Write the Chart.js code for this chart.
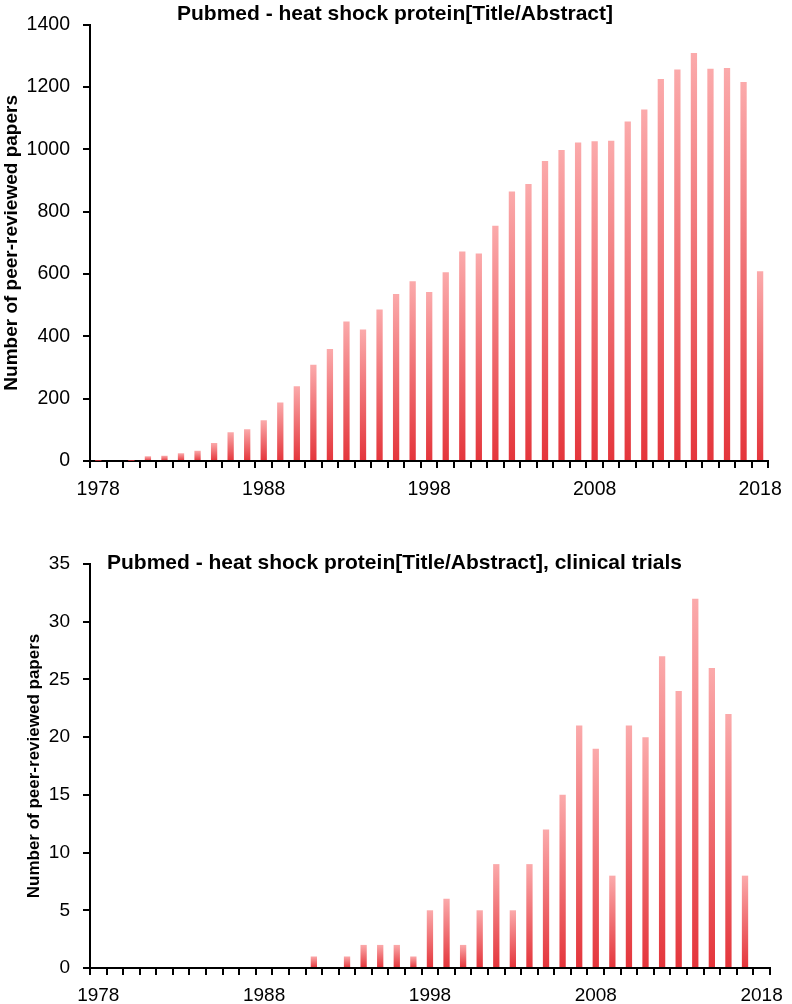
<!DOCTYPE html>
<html>
<head>
<meta charset="utf-8">
<script src="https://cdn.jsdelivr.net/npm/chart.js@4/dist/chart.umd.min.js"></script>
<style>
  html, body { margin: 0; padding: 0; background: #fff; }
  #wrap { position: relative; width: 792px; height: 1004px; }
  canvas { position: absolute; left: 0; }
  #c1 { top: 0; }
  #c2 { top: 500px; }
</style>
</head>
<body>
<div id="wrap">
  <canvas id="c1" width="792" height="500"></canvas>
  <canvas id="c2" width="792" height="504"></canvas>
</div>
<script>
// ---- data ----
const years = ['1978','1979','1980','1981','1982','1983','1984','1985','1986','1987',
  '1988','1989','1990','1991','1992','1993','1994','1995','1996','1997',
  '1998','1999','2000','2001','2002','2003','2004','2005','2006','2007',
  '2008','2009','2010','2011','2012','2013','2014','2015','2016','2017','2018'];
const shownYearLabels = ['1978','1988','1998','2008','2018'];
const allPapers = [1, 3, 1, 15, 17, 25, 33, 58, 92, 102,
  131, 188, 240, 309, 359, 448, 422, 486, 536, 577,
  542, 606, 672, 666, 755, 865, 889, 963, 998, 1022,
  1026, 1028, 1089, 1128, 1226, 1256, 1309, 1259, 1261, 1216, 609];
const clinicalTrials = [0, 0, 0, 0, 0, 0, 0, 0, 0, 0,
  0, 0, 0, 1, 0, 1, 2, 2, 2, 1,
  5, 6, 2, 5, 9, 5, 9, 12, 15, 21,
  19, 8, 21, 20, 27, 24, 32, 26, 22, 8, 0];
const topYTicks = { max: 1400, step: 200 };
const bottomYTicks = { max: 35, step: 5 };
const titleTop = 'Pubmed - heat shock protein[Title/Abstract]';
const titleBottom = 'Pubmed - heat shock protein[Title/Abstract], clinical trials';
const yAxisTitle = 'Number of peer-reviewed papers';

// ---- styling helpers ----
const FONT = "'Liberation Sans', Arial, sans-serif";

function barGradient(context) {
  const chart = context.chart;
  const y = chart.scales && chart.scales.y;
  if (context.type !== 'data' || !y || !context.parsed) return '#ec5a5e';
  const yTop = y.getPixelForValue(context.parsed.y);
  const yBot = y.getPixelForValue(0);
  if (!isFinite(yTop) || !isFinite(yBot) || Math.abs(yBot - yTop) < 0.5) return '#e63a40';
  const g = chart.ctx.createLinearGradient(0, yTop, 0, yBot);
  g.addColorStop(0, '#fbaaab');
  g.addColorStop(1, '#e4353b');
  return g;
}

const innerTitle = {
  id: 'innerTitle',
  afterDraw(chart, args, opts) {
    const c = chart.ctx;
    c.save();
    c.font = opts.font;
    c.fillStyle = '#000';
    c.textAlign = 'left';
    c.textBaseline = 'middle';
    c.fillText(opts.text, opts.x, opts.y);
    c.restore();
  }
};

function makeChart(canvasId, values, yt, cfg) {
  return new Chart(document.getElementById(canvasId), {
    type: 'bar',
    data: {
      labels: years,
      datasets: [{
        data: values,
        backgroundColor: barGradient,
        borderWidth: 0,
        barPercentage: 0.38,
        categoryPercentage: 1.0
      }]
    },
    plugins: [innerTitle],
    options: {
      responsive: false,
      animation: false,
      devicePixelRatio: 1,
      layout: { padding: cfg.padding },
      plugins: {
        legend: { display: false },
        tooltip: { enabled: false },
        title: { display: false },
        innerTitle: { text: cfg.title, x: cfg.titleX, y: cfg.titleY, font: cfg.titleFont }
      },
      scales: {
        x: {
          type: 'category',
          offset: true,
          afterFit: (s) => { s.height = cfg.xAxisHeight; },
          grid: { display: true, offset: true, drawOnChartArea: false, drawTicks: true, tickLength: 7, color: '#000', lineWidth: 2 },
          border: { display: true, color: '#000', width: 2 },
          ticks: {
            autoSkip: false, maxRotation: 0, minRotation: 0,
            padding: cfg.xTickPad,
            color: '#000',
            font: { family: FONT, size: cfg.xTickSize },
            callback: function (value, index) {
              const lab = years[index];
              return shownYearLabels.includes(lab) ? lab : '';
            }
          }
        },
        y: {
          min: 0, max: yt.max,
          afterFit: (s) => { s.width = 90; },
          grid: { display: true, drawOnChartArea: false, drawTicks: true, tickLength: 7, color: '#000', lineWidth: 2 },
          border: { display: true, color: '#000', width: 2 },
          ticks: {
            stepSize: yt.step,
            padding: 13,
            color: '#000',
            font: { family: FONT, size: cfg.yTickSize },
            callback: (v) => String(v)
          },
          title: {
            display: true,
            text: yAxisTitle,
            color: '#000',
            padding: { top: cfg.yTitlePad, bottom: 0 },
            font: { family: FONT, size: cfg.yTitleSize, weight: 'bold' }
          }
        }
      }
    }
  });
}

makeChart('c1', allPapers, topYTicks, {
  padding: { left: 0, right: 17, top: 12, bottom: 0 },
  xAxisHeight: 39, xTickPad: 10, xTickSize: 19.5, yTickSize: 19.5,
  yTitlePad: 0, yTitleSize: 19,
  title: titleTop, titleX: 177, titleY: 14, titleFont: "bold 21px " + FONT
});

makeChart('c2', clinicalTrials, bottomYTicks, {
  padding: { left: 0, right: 22, top: 64, bottom: 0 },
  xAxisHeight: 36, xTickPad: 9, xTickSize: 19, yTickSize: 19,
  yTitlePad: 24, yTitleSize: 17,
  title: titleBottom, titleX: 107, titleY: 63, titleFont: "bold 21px " + FONT
});
</script>
</body>
</html>
